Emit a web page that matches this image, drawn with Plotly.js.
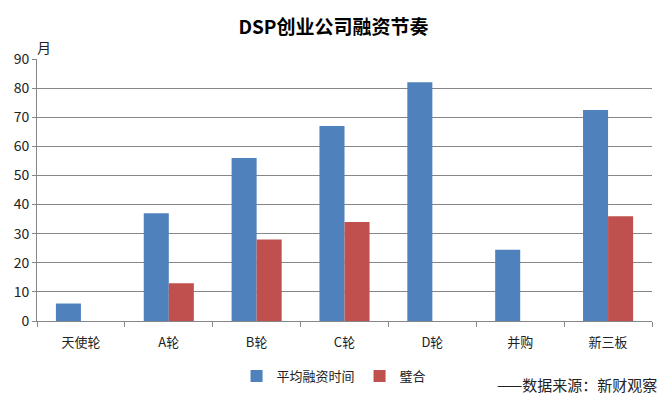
<!DOCTYPE html>
<html><head><meta charset="utf-8">
<script src="https://cdn.plot.ly/plotly-3.0.1.min.js"></script>
<style>html,body{margin:0;padding:0;background:#fff;}#chart{width:667px;height:396px;}</style>
</head><body><div id="chart"></div>
<script>
var categories = ["天使轮","A轮","B轮","C轮","D轮","并购","新三板"];
var avgTime = [6, 37, 56, 67, 82, 24.5, 72.5];
var bihe = [null, 13, 28, 34, null, null, 36];
var yTicks = [0,10,20,30,40,50,60,70,80,90];
var seriesNames = ["平均融资时间","璧合"];
var FONT = '"Noto Sans CJK SC", "Microsoft YaHei", sans-serif';

var data = [
  {type:'bar', x:categories, y:avgTime, name:seriesNames[0], marker:{color:'#4F81BD'}},
  {type:'bar', x:categories, y:bihe, name:seriesNames[1], marker:{color:'#C0504D'}}
];
var layout = {
  width:667, height:396,
  margin:{l:37, r:15, t:59, b:75, autoexpand:false},
  paper_bgcolor:'#fff', plot_bgcolor:'#fff',
  font:{family:FONT, size:13, color:'#222'},
  title:{text:'<b>DSP创业公司融资节奏</b>', x:0.5, xanchor:'center', y:0.93, yanchor:'middle', font:{size:19, color:'#000', family:FONT}},
  barmode:'group', bargap:0.43, bargroupgap:0,
  showlegend:true,
  legend:{orientation:'h', x:0.483, xanchor:'center', y:-0.21, yanchor:'middle', font:{size:13, color:'#222'}, itemwidth:30, tracegroupgap:0},
  xaxis:{type:'category', showline:true, linecolor:'#868686', linewidth:1, ticks:'outside', tickson:'boundaries', ticklen:5, tickcolor:'#868686', showgrid:false, ticklabelstandoff:9, tickfont:{size:13, color:'#222'}},
  yaxis:{range:[0,90], tickvals:yTicks, showline:true, linecolor:'#868686', linewidth:1, showgrid:true, gridcolor:'#868686', gridwidth:1, ticks:'outside', ticklen:4, tickcolor:'#868686', zeroline:false, tickfont:{size:14, color:'#222'}},
  annotations:[
    {text:'月', xref:'paper', yref:'paper', x:0, y:1.0, xanchor:'left', yanchor:'bottom', xshift:-2, showarrow:false, font:{size:14, color:'#222'}},
    {text:'——数据来源：新财观察', xref:'paper', yref:'paper', x:1.0, y:-0.2405, xanchor:'right', yanchor:'middle', xshift:7, showarrow:false, font:{size:15, color:'#222'}}
  ]
};
Plotly.newPlot('chart', data, layout, {displayModeBar:false, staticPlot:true});
</script></body></html>
